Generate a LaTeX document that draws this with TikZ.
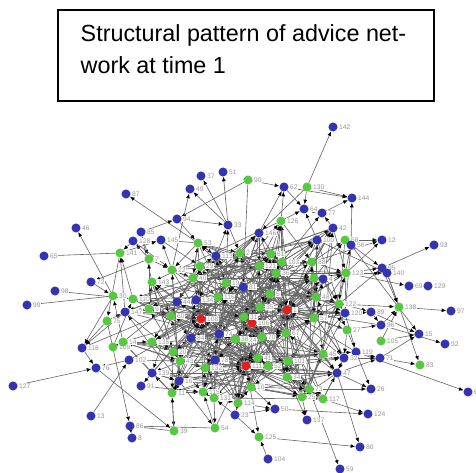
\documentclass[tikz,border=0pt]{standalone}
\usepackage{fontspec}
\setmainfont{Liberation Sans}
\usetikzlibrary{arrows.meta}
\definecolor{nb}{RGB}{52,52,178}
\definecolor{ng}{RGB}{88,200,66}
\definecolor{nr}{RGB}{228,30,30}
\definecolor{eg}{RGB}{100,100,100}
\definecolor{lg}{RGB}{150,150,150}
\pgfdeclarelayer{bg}
\pgfsetlayers{bg,main}
\begin{document}
\begin{tikzpicture}[x=0.75pt,y=-0.75pt,
  vb/.style={circle,fill=nb,minimum size=6.8pt,inner sep=0pt},
  vg/.style={circle,fill=ng,minimum size=6.8pt,inner sep=0pt},
  vr/.style={circle,fill=nr,minimum size=6.8pt,inner sep=0pt},
  lab/.style={font=\fontsize{5}{5.5}\selectfont,text=lg,fill=white,inner sep=0.5pt,label distance=0.3pt},
  edge/.style={draw=eg,line width=0.45pt,-{Latex[color=black,length=3.4pt,width=2.9pt]}},
  titletext/.style={anchor=base west,font=\fontsize{17.5}{20}\selectfont}]
\useasboundingbox (0,0) rectangle (476,473);
% title
\draw[line width=1.1pt] (58,10) rectangle (434,101);
\node[titletext] (t1) at (76,41.7) {Structural pattern of advice net-};
\node[titletext] (t2) at (76,74) {work at time 1};
% nodes
\foreach \i/\x/\y/\c/\l in {
1/333/127/vb/142, 2/248/180/vg/90, 3/284/187/vb/62, 4/307/187/vg/130, 5/352/198/vb/144,
6/304/209/vb/64, 7/322/213/vb/77, 8/281/221/vg/126, 9/333/228/vb/42, 10/259/233/vb/146,
11/382/240/vb/12, 12/317/240/vb/100, 13/345/240/vg/58, 14/351/245/vb/56, 15/434/245/vb/93,
16/382/268/vb/95, 17/387/273/vb/140, 18/409/286/vb/69, 19/428/286/vb/129, 20/201/176/vb/37,
21/223/172/vb/51, 22/126/194/vb/87, 23/190/189/vb/49, 24/177/219/vb/94, 25/76/228/vb/46,
26/228/225/vb/33, 27/141/232/vb/85, 28/133/241/vb/128, 29/161/240/vb/145, 30/198/243/vg/53,
31/216/256/vb/113, 32/120/253/vg/141, 33/44/256/vb/65, 34/149/259/vg/7, 35/200/266/vg/29,
36/172/270/vg/22, 37/193/278/vg/40, 38/152/282/vg/143, 39/91/282/vb/72, 40/226/283/vg/19,
41/55/291/vb/98, 42/27/305/vb/99, 43/240/253/vg/2, 44/271/254/vg/61, 45/259/266/vg/121,
46/282/262/vg/103, 47/312/262/vg/88, 48/276/273/vg/36, 49/346/273/vg/123, 50/314/278/vg/17,
51/323/279/vb/4, 52/243/287/vb/81, 53/113/296/vg/30, 54/133/299/vg/110, 55/149/309/vg/9,
56/125/312/vb/147, 57/177/302/vb/44, 58/196/300/vb/134, 59/218/297/vg/116, 60/171/316/vg/60,
61/201/319/vr/108, 62/107/321/vg/75, 63/270/294/vg/5, 64/316/297/vg/48, 65/339/304/vg/122,
66/345/313/vb/120, 67/371/312/vb/89, 68/399/307/vg/138, 69/451/311/vb/97, 70/287/310/vr/1,
71/260/307/vg/35, 72/252/323/vr/106, 73/244/317/vg/31, 74/381/325/vb/96, 75/314/318/vg/57,
76/286/333/vg/67, 77/262/337/vg/70, 78/347/330/vg/27, 79/419/334/vb/15, 80/381/341/vg/105,
81/445/344/vb/92, 82/243/340/vg/24, 83/191/338/vb/84, 84/219/334/vb/74, 85/235/339/vg/38,
86/152/342/vg/135, 87/113/347/vg/109, 88/82/348/vb/118, 89/123/342/vg/14, 90/356/352/vb/119,
91/344/358/vb/32, 92/380/358/vb/71, 93/323/354/vg/45, 94/420/365/vg/83, 95/246/366/vr/111,
96/268/366/vg/52, 97/288/361/vg/101, 98/337/373/vb/47, 99/287/377/vg/34, 100/173/352/vg/20,
101/180/361/vg/43, 102/129/360/vb/102, 103/215/360/vb/78, 104/96/368/vb/76, 105/205/368/vg/132,
106/152/373/vb/139, 107/179/381/vb/16, 108/141/386/vb/91, 109/13/386/vb/127, 110/172/393/vg/11,
111/203/392/vg/115, 112/214/398/vg/131, 113/238/403/vg/114, 114/235/415/vb/23, 115/91/416/vb/13,
116/130/426/vb/86, 117/174/431/vg/39, 118/215/428/vg/54, 119/132/438/vb/8, 120/251/387/vg/10,
121/371/389/vb/26, 122/468/392/vb/63, 123/309/389/vg/73, 124/302/397/vg/25, 125/323/399/vg/117,
126/275/409/vb/50, 127/368/414/vb/124, 128/307/420/vb/137, 129/259/437/vg/125, 130/360/447/vb/80,
131/268/459/vb/104, 132/340/469/vb/59, 133/258/358/vg/41}
  \node[\c,label={[lab]right:\l}] (n\i) at (\x,\y) {};
% edges
\begin{pgfonlayer}{bg}
\foreach \a/\b in {
4/1, 4/5, 3/5, 2/3, 2/52, 2/24, 4/6, 3/6, 4/10, 14/5, 7/5, 6/7, 8/3, 10/3, 9/7, 12/9,
47/11, 13/11, 16/15, 13/16, 49/17, 12/17, 49/18, 68/69, 74/81, 67/79, 14/79, 65/68, 16/68,
92/94, 17/94, 90/122, 78/121, 98/121, 126/127, 129/130, 98/130, 123/132, 131/129, 99/128,
114/129, 95/129, 113/126, 117/116, 110/117, 107/118, 118/116, 116/119, 62/116, 115/102,
109/104, 102/104, 104/117, 62/88, 53/88, 88/58, 87/54, 53/42, 54/41, 34/39, 32/33, 53/25,
30/22, 26/23, 36/23, 26/20, 26/21, 24/26, 27/24, 34/28, 30/29, 32/29, 38/27, 31/26, 35/31,
40/26, 43/10, 8/6, 44/8, 12/6, 46/7, 47/9, 64/12, 50/13, 65/14, 49/16, 75/67, 78/74, 64/67,
32/62, 55/34, 39/53, 88/104, 56/88, 103/107, 106/108, 108/111, 110/106, 112/118, 114/126,
120/126, 124/128, 125/127, 123/121, 113/114, 91/92, 93/90, 98/92, 80/79, 80/68, 17/68,
16/17, 66/67, 65/16, 49/11, 47/13, 56/32, 54/32, 28/32, 55/38, 36/29, 37/30, 31/30,
30/43, 43/44, 44/46, 46/47, 47/49, 35/40, 40/52, 52/63, 63/64, 64/65, 65/66, 36/37, 37/57,
57/58, 58/59, 59/73, 73/71, 71/48, 48/50, 50/51, 34/36, 38/55, 55/60, 60/83, 83/84, 84/85,
85/82, 82/77, 77/76, 76/75, 75/78, 78/91, 91/93, 93/98, 98/99, 99/97, 97/96, 96/133,
133/103, 103/105, 105/100, 100/101, 101/107, 107/110, 110/111, 111/112, 112/113, 113/120,
120/124, 124/123, 123/125, 125/98, 43/59, 45/73, 46/71, 47/75, 12/64, 51/65, 31/40, 26/43,
10/45, 8/46, 29/35, 30/37, 24/30, 27/34, 28/36, 56/55, 54/60, 53/54, 62/56, 89/86, 86/100,
102/101, 106/107, 87/89, 89/53, 83/103, 58/85, 59/82, 66/90, 90/92, 92/79, 74/68, 67/74,
13/65, 14/66, 9/49, 44/63, 45/48, 35/58, 37/59, 60/57, 101/105, 100/83, 73/82, 71/77,
48/76, 50/75, 51/78, 49/66, 120/96, 124/97, 123/99, 125/91, 113/133, 112/103, 110/106,
114/112, 118/111, 117/110}
  \draw[edge] (n\a) -- (n\b);
\foreach \h/\srcs in {
61/{57,58,59,60,55,56,83,84,85,100,101,103,105,37,38,40,36,54,86,107,111,52,43,89,102,35,30,31,106,110,112,113,133,73},
70/{46,47,48,50,51,63,64,65,71,75,76,78,93,97,99,44,45,12,49,66,9,8,123,91,125,10,43,52,98,90,124,96,133,120,74},
72/{63,71,73,77,82,85,96,97,133,52,45,43,59,84,40,48,76,120,113,31,44,124,103,58,46,37,99,64,75,105,111},
95/{103,105,111,112,113,120,96,133,99,124,82,77,110,101,85,73,114,123,83,100,107,84,58,76,93,125,86,118,63}}
  \foreach \s in \srcs \draw[edge] (n\s) -- (n\h);
\draw[edge] (n61) -- (n70);
\draw[edge] (n72) -- (n95);
\draw[edge] (n70) -- (n95);
\draw[edge] (n61) -- (n72);
\draw[edge] (n95) -- (n61);
\draw[edge] (n70) -- (n72);
% further core edges, spread over the core nodes
\def\corearr{{30,31,35,36,37,38,40,43,44,45,46,47,48,50,51,52,55,57,58,59,60,63,64,65,71,73,75,76,77,82,83,84,85,86,93,96,97,99,100,101,103,105,111,112,113,120,123,124,125,133,12,49,66,91,98,9,8,10,54,56,89,106,107,110}}
\foreach \i in {0,...,63} {
  \pgfmathtruncatemacro{\ca}{\corearr[\i]}
  \pgfmathtruncatemacro{\cb}{\corearr[mod(\i*5+13,64)]}
  \pgfmathtruncatemacro{\cc}{\corearr[mod(\i*11+29,64)]}
  \pgfmathtruncatemacro{\cd}{\corearr[mod(\i*7+3,64)]}
  \pgfmathtruncatemacro{\ce}{\corearr[mod(\i*3+1,64)]}
  \draw[edge] (n\ca) -- (n\cb);
  \draw[edge] (n\ca) -- (n\cc);
  \draw[edge] (n\ca) -- (n\cd);
  \draw[edge] (n\ca) -- (n\ce);
}
\end{pgfonlayer}
\end{tikzpicture}
\end{document}
